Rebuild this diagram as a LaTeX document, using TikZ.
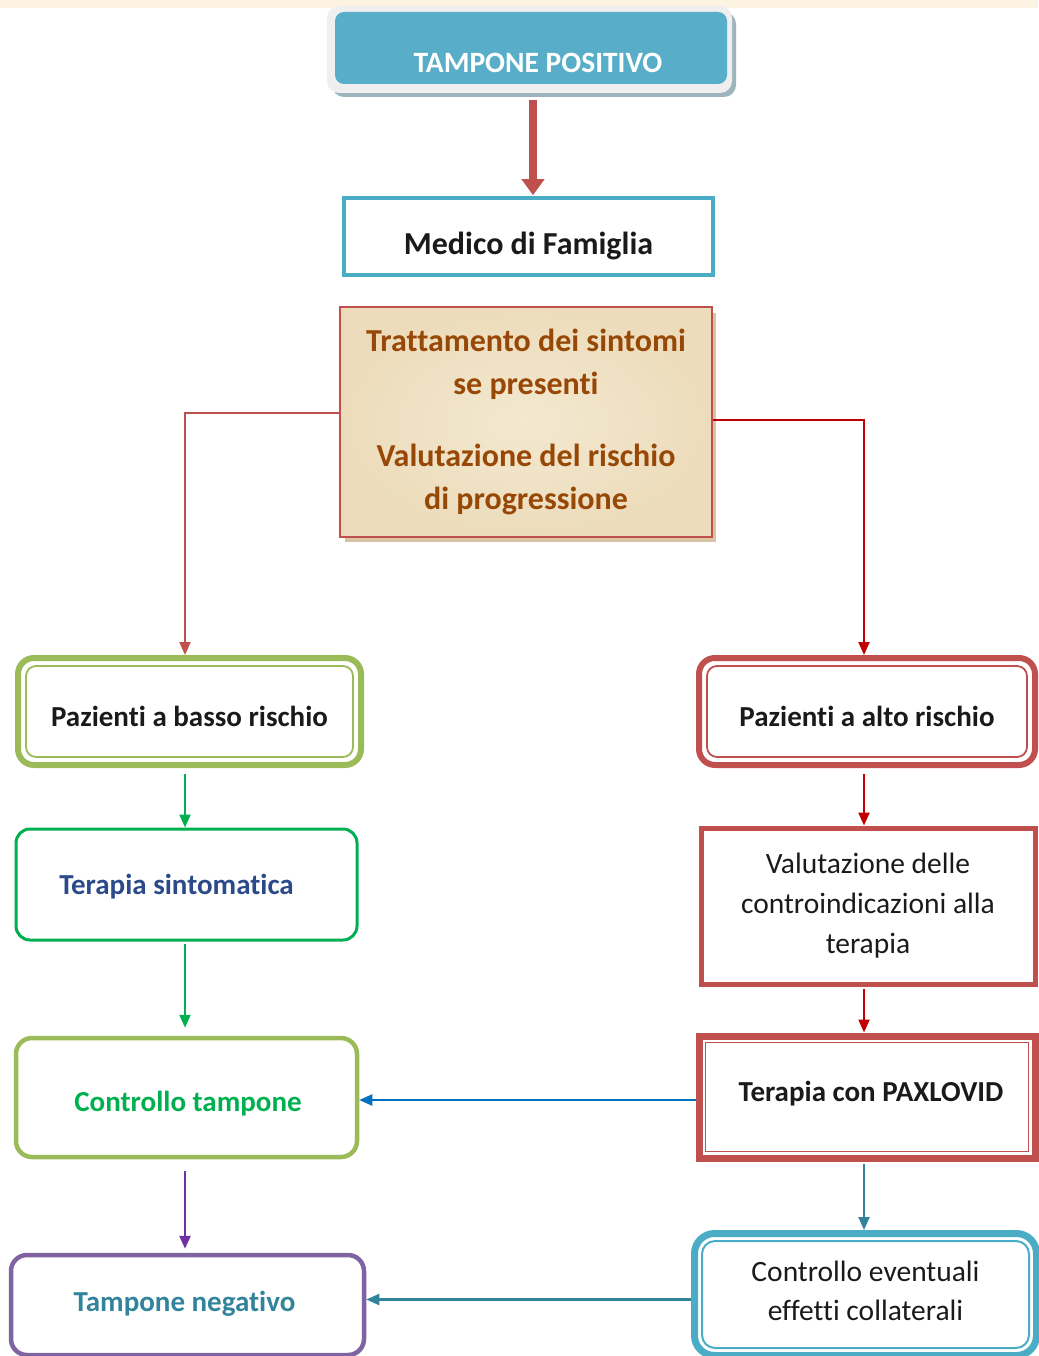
\documentclass[tikz,border=0pt]{standalone}
\usepackage{fontspec}
\setmainfont{Carlito}[Ligatures=CommonOff]
\usetikzlibrary{arrows.meta}
\definecolor{cream}{HTML}{FDF3E3}
\definecolor{topteal}{HTML}{58AEC8}
\definecolor{topgray}{HTML}{EFEFEF}
\definecolor{topshadow}{HTML}{9DB4BF}
\definecolor{accteal}{HTML}{4BACC6}
\definecolor{accred}{HTML}{C0504D}
\definecolor{darkred}{HTML}{C00000}
\definecolor{accgreen}{HTML}{9BBB59}
\definecolor{brightgreen}{HTML}{00B050}
\definecolor{purplearrow}{HTML}{7030A0}
\definecolor{accpurple}{HTML}{8064A2}
\definecolor{blueline}{HTML}{0070C0}
\definecolor{darkteal}{HTML}{31849B}
\definecolor{brown}{HTML}{984806}
\definecolor{navytext}{HTML}{2A4A8A}
\definecolor{parch}{HTML}{ECDCBB}
\definecolor{parchlight}{HTML}{F3E8D0}
\definecolor{parchshadow}{HTML}{D8C3A3}
\definecolor{txtblack}{HTML}{1A1A1A}
\begin{document}
\begin{tikzpicture}[x=1pt,y=-1pt,
  boldtxt/.style={font=\fontsize{29}{32}\selectfont\bfseries, text=txtblack},
  regtxt/.style={font=\fontsize{29.5}{40}\selectfont, text=txtblack, align=center},
  tshift/.style={text height=#1, text depth=0pt},
  tip/.style={-{Triangle[length=13pt,width=11pt]}},
  conn/.style={line width=2.2pt, tip},
  inner sep=0pt]
\useasboundingbox (0,0) rectangle (1038,1356);
\fill[cream] (0,0) rectangle (1038,8);

% top box
\fill[topshadow, rounded corners=12] (332,12) rectangle (736,97);
\fill[topgray, rounded corners=12] (327,6) rectangle (732,93);
\node[fill=topteal, rounded corners=9, minimum width=392pt, minimum height=72pt] (tpbox) at (531,48) {};
\node[font=\fontsize{29.5}{32}\selectfont\bfseries, text=white] (tptext) at (538,63) {TAMPONE POSITIVO};

% Medico
\node[draw=accteal, line width=4pt, minimum width=369pt, minimum height=77pt, boldtxt, font=\fontsize{32}{34}\selectfont\bfseries, tshift=36pt] (med) at (528.5,236.5) {Medico di Famiglia};
\draw[accred, line width=8pt, -{Triangle[length=16pt,width=22pt]}] ([yshift=-16pt]tpbox.south -| med.north) ++(4.5,0) -- ++(0,95);

% parchment
\fill[parchshadow] (345,313) rectangle (716,542);
\node[inner color=parchlight, outer color=parch, draw=accred, line width=2pt, minimum width=372pt, minimum height=230pt, text=brown, align=center, font=\fontsize{32}{43}\selectfont\bfseries] (para) at (526,422)
  {Trattamento dei sintomi\\se presenti\\[29pt]Valutazione del rischio\\di progressione};

% left column
\node[draw=accgreen, line width=6pt, rounded corners=16, minimum width=343pt, minimum height=107pt, boldtxt, tshift=30pt] (basso) at (189.5,711.5) {Pazienti a basso rischio};
\draw[accgreen, line width=1.8pt, rounded corners=10] ([shift={(11,11)}]basso.north west) rectangle ([shift={(-11,-11)}]basso.south east);

\node[draw=brightgreen, line width=3pt, rounded corners=14, minimum width=341pt, minimum height=111pt, boldtxt, text=navytext, tshift=20pt] (sint) at (186.5,884.5) {Terapia sintomatica\kern20pt};

\node[draw=accgreen, line width=4.5pt, rounded corners=16, minimum width=341pt, minimum height=119pt, boldtxt, text=brightgreen, tshift=28pt] (ctamp) at (186.5,1097.5) {\kern3pt Controllo tampone};

\node[draw=accpurple, line width=4.5pt, rounded corners=16, minimum width=353pt, minimum height=100pt, boldtxt, text=darkteal, tshift=13pt] (neg) at (187.5,1305) {Tampone negativo\kern6pt};

% right column
\node[draw=accred, line width=6pt, rounded corners=16, minimum width=336pt, minimum height=107pt, boldtxt, tshift=30pt] (alto) at (867,711.5) {Pazienti a alto rischio};
\draw[accred, line width=1.8pt, rounded corners=10] ([shift={(11,11)}]alto.north west) rectangle ([shift={(-11,-11)}]alto.south east);

\node[draw=accred, line width=5pt, minimum width=334pt, minimum height=156pt, regtxt] (valut) at (868,906) {Valutazione delle\\controindicazioni alla\\terapia};

\node[draw=accred, line width=7pt, minimum width=336pt, minimum height=122pt, boldtxt, tshift=9pt] (pax) at (867,1097) {\kern8pt Terapia con PAXLOVID};
\draw[accred, line width=1.6pt] ([shift={(10,10)}]pax.north west) rectangle ([shift={(-10,-10)}]pax.south east);

\node[draw=accteal, line width=7pt, rounded corners=20, minimum width=342pt, minimum height=122pt, regtxt, font=\fontsize{29.5}{39}\selectfont, text depth=8pt] (coll) at (865.5,1294.5) {Controllo eventuali\\effetti collaterali};
\draw[accteal, line width=2pt, rounded corners=13] ([shift={(11,11)}]coll.north west) rectangle ([shift={(-11,-11)}]coll.south east);

% connectors
\draw[accred, conn] ([yshift=9pt]para.west) -| ([xshift=-4.5pt]basso.north);
\draw[darkred, conn] ([yshift=2pt]para.east) -| ([xshift=-3pt]alto.north);

\draw[brightgreen, conn, shorten <=6pt] ([xshift=-4.5pt]basso.south) -- ([xshift=-4.5pt]basso.south |- sint.north);
\draw[brightgreen, conn, shorten <=2pt, shorten >=8pt] ([xshift=-1.5pt]sint.south) -- ([xshift=-1.5pt]sint.south |- ctamp.north);
\draw[purplearrow, line width=2.6pt, tip, shorten <=12pt, shorten >=4pt] ([xshift=-1.5pt]ctamp.south) -- ([xshift=-1.5pt]ctamp.south |- neg.north);

\draw[darkred, conn, shorten <=6pt] ([xshift=-3pt]alto.south) -- ([xshift=-3pt]alto.south |- valut.north);
\draw[darkred, conn, shorten <=2pt] ([xshift=-4pt]valut.south) -- ([xshift=-4pt]valut.south |- pax.north);
\draw[blueline, conn] ([yshift=-3pt]pax.west) -- ([yshift=-3pt]pax.west -| ctamp.east);
\draw[darkteal, conn, shorten <=2pt] ([xshift=-3pt]pax.south) -- ([xshift=-3pt]pax.south |- coll.north);
\draw[darkteal, conn] ([yshift=-5pt]coll.west) -- ([yshift=-5pt]coll.west -| neg.east);
\end{tikzpicture}
\end{document}
